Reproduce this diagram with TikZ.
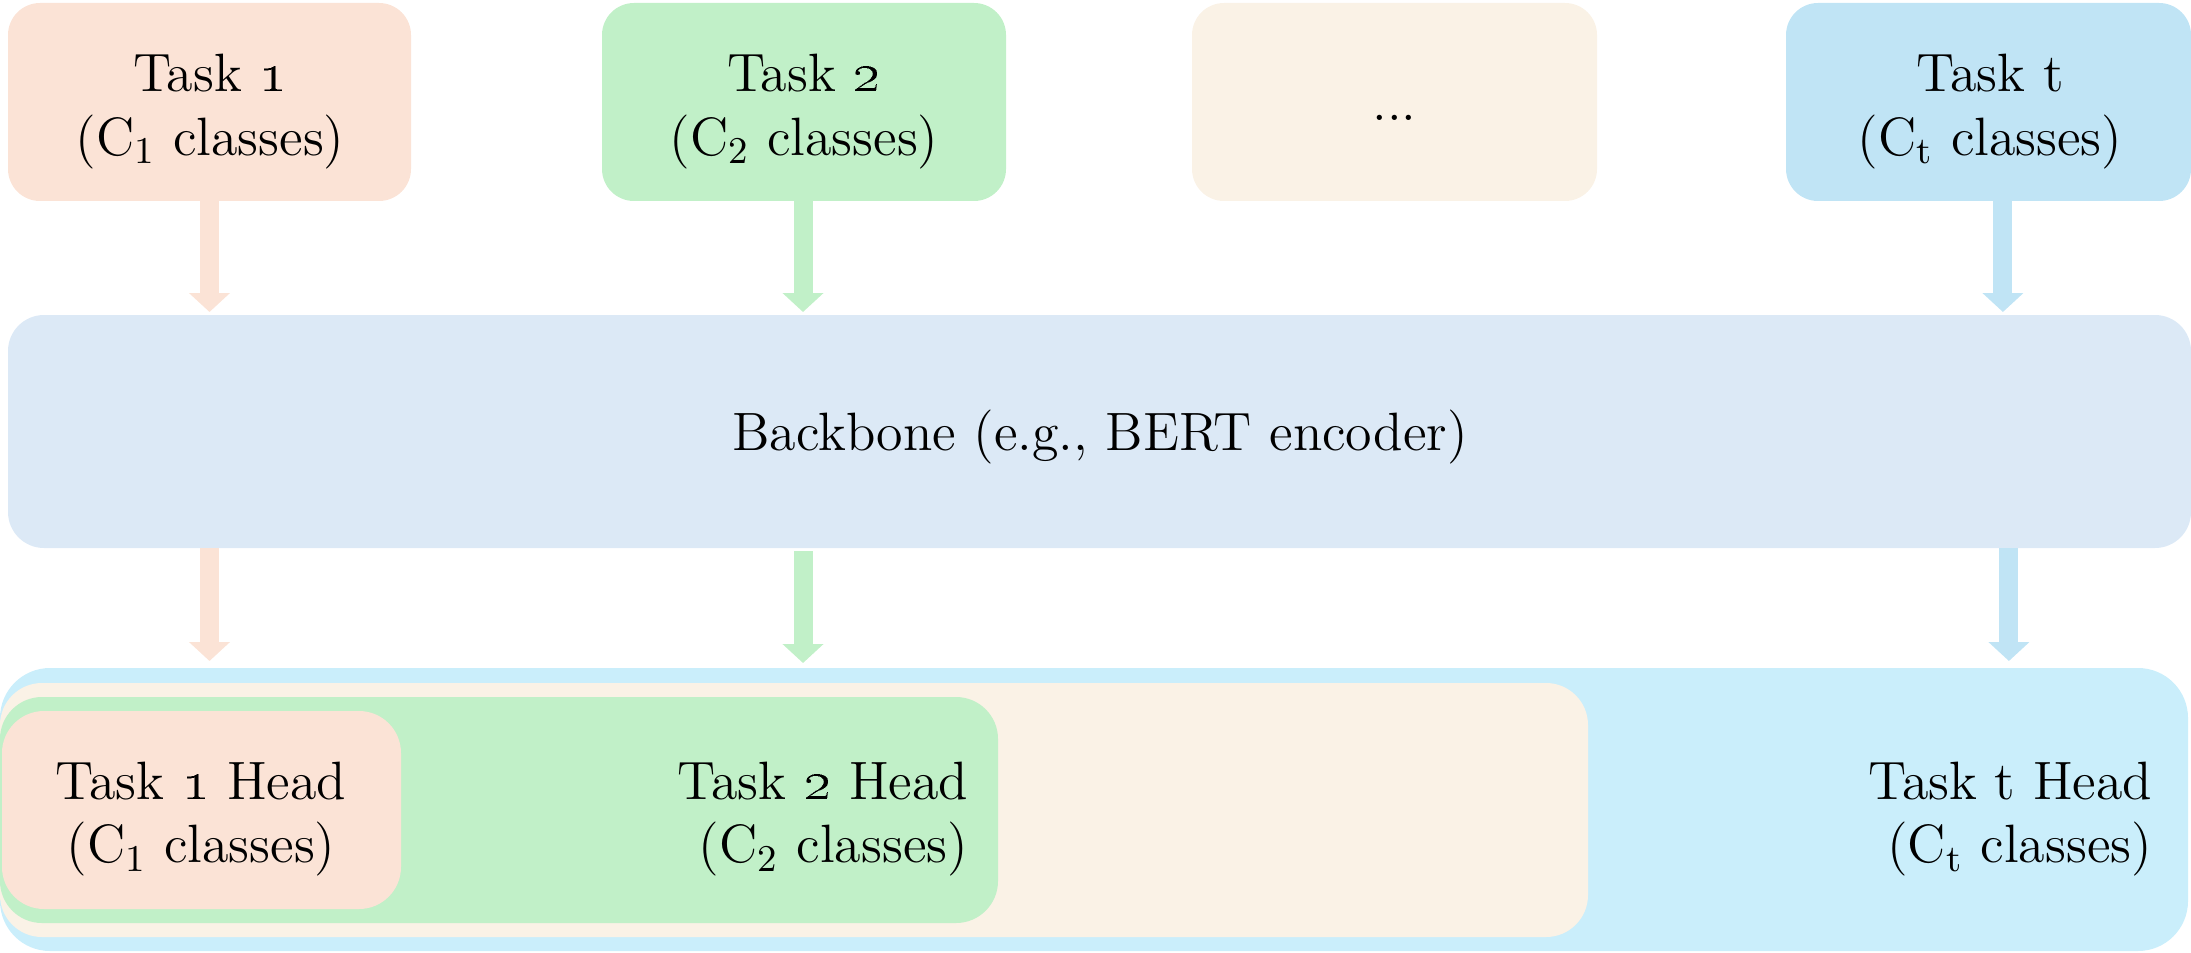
\documentclass[tikz,border=0pt]{standalone}
\usetikzlibrary{arrows.meta}
\definecolor{pinkF}{HTML}{FBE3D6}
\definecolor{greenF}{HTML}{C1F0C8}
\definecolor{creamF}{HTML}{FAF2E6}
\definecolor{blueT}{HTML}{C0E4F5}
\definecolor{bbF}{HTML}{DCE9F6}
\definecolor{blueB}{HTML}{CAEEFB}
\begin{document}
\begin{tikzpicture}[x=0.25pt,y=-0.25pt,
  every node/.style={inner sep=0pt,outer sep=0pt},
  tbox/.style={rectangle,rounded corners=8pt,minimum height=49.5pt},
  hbox/.style={rectangle,rounded corners=10.5pt},
  txt/.style={font=\fontsize{13.5}{15.9}\selectfont,text=black},
  fat/.style={line width=4.75pt,-{Triangle[width=10pt,length=4.75pt]}}]
\useasboundingbox (0,0) rectangle (2191,952);
% top task boxes
\node[tbox,fill=pinkF,minimum width=100.75pt] (t1) at (209.5,102) {};
\node[tbox,fill=greenF,minimum width=101pt] (t2) at (804,102) {};
\node[tbox,fill=creamF,minimum width=101.25pt] (td) at (1394.5,102) {};
\node[tbox,fill=blueT,minimum width=101.25pt] (tt) at (1988.5,102) {};
\node[txt,align=center] (t1l) at (210,111.5) {Task \oldstylenums{1}\\(C\textsubscript{1} classes)};
\node[txt,align=center] (t2l) at (804,111.5) {Task \oldstylenums{2}\\(C\textsubscript{2} classes)};
\node[txt,anchor=base] (tdl) at (1394.5,121) {...};
\node[txt,align=center] (ttl) at (1990,111.5) {Task t\\(C\textsubscript{t} classes)};
% backbone
\node[rectangle,rounded corners=9pt,fill=bbF,minimum width=545.75pt,minimum height=58.25pt] (bb) at (1099.5,431.5) {};
\node[txt] (bbl) at (1100,437) {Backbone (e.g., BERT encoder)};
% bottom heads
\node[rectangle,rounded corners=12.5pt,fill=blueB,minimum width=547pt,minimum height=70.75pt] (hb) at (1094,809.5) {};
\node[hbox,fill=creamF,minimum width=397pt,minimum height=63.5pt] (hc) at (794,810) {};
\node[hbox,fill=greenF,minimum width=249.5pt,minimum height=56.5pt] (hg) at (499,810) {};
\node[hbox,fill=pinkF,minimum width=99.75pt,minimum height=49.5pt] (hp) at (201.5,810) {};
\node[txt,align=center] (hpl) at (201,819) {Task \oldstylenums{1} Head\\(C\textsubscript{1} classes)};
\node[txt,align=right,anchor=east] (hgl) at (968,819) {Task \oldstylenums{2} Head\\(C\textsubscript{2} classes)};
\node[txt,align=right,anchor=east] (hbl) at (2152,819) {Task t Head\\(C\textsubscript{t} classes)};
% arrow anchor coordinates
\coordinate (a1) at (t1.south);
\coordinate (a2) at ([xshift=-0.25pt]t2.south);
\coordinate (a3) at ([xshift=3.6pt]tt.south);
\coordinate (b1) at (a1 |- bb.south);
\coordinate (b2) at (a2 |- bb.south);
\coordinate (b3) at ([xshift=1.5pt]a3 |- bb.south);
% arrows
\draw[fat,draw=pinkF,fill=pinkF,shorten >=0.75pt] (a1) -- (a1 |- bb.north);
\draw[fat,draw=greenF,fill=greenF,shorten >=0.75pt] (a2) -- (a2 |- bb.north);
\draw[fat,draw=blueT,fill=blueT,shorten >=0.75pt] (a3) -- (a3 |- bb.north);
\draw[fat,draw=pinkF,fill=pinkF,shorten >=1.75pt] (b1) -- (b1 |- hb.north);
\draw[fat,draw=greenF,fill=greenF,shorten <=0.75pt,shorten >=1.25pt] (b2) -- (b2 |- hb.north);
\draw[fat,draw=blueT,fill=blueT,shorten >=1.75pt] (b3) -- (b3 |- hb.north);
\end{tikzpicture}
\end{document}
